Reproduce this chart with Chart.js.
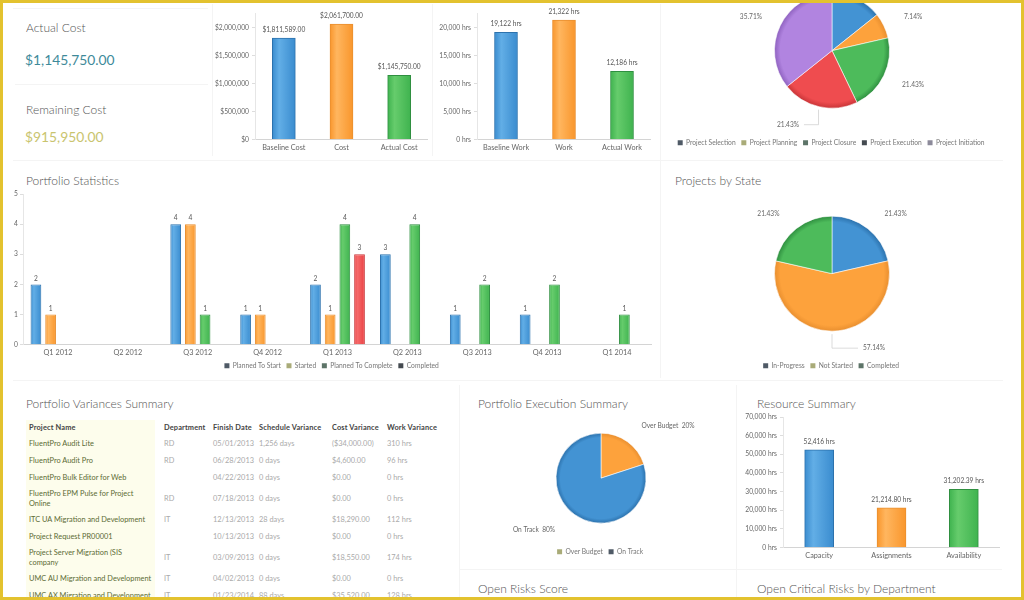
<!DOCTYPE html>
<html>
<head>
<meta charset="utf-8">
<title>Portfolio Dashboard</title>
<script src="https://cdn.jsdelivr.net/npm/chart.js@4"></script>
<style>
    html, body { margin: 0; padding: 0; width: 1024px; height: 600px; overflow: hidden; background: #fff; font-family: Lato, "Open Sans", sans-serif; }
    canvas, .title, .line, .amount, #frame, #yellowCol, #tableWrap { position: absolute; }
    .title { color: #555; font-size: 12px; font-weight: 300; line-height: 16px; white-space: nowrap; }
    .amount { font-size: 13.8px; line-height: 18px; white-space: nowrap; }
    .line { background: #f4f4f4; }
    #frame { left: 0; top: 0; width: 1018px; height: 594px; border: 3px solid #e3c22f; z-index: 5; }
    #yellowCol { left: 26px; top: 420px; width: 129px; height: 180px; background: #fdfdec; }
    #tableWrap { left: 26px; top: 420px; }
    table { border-collapse: collapse; table-layout: fixed; width: 422px; font-size: 7.4px; line-height: 10.6px; color: #aaa; }
    th { text-align: left; color: #444; font-weight: 700; height: 16.4px; padding: 0 0 0 3px; letter-spacing: .15px; white-space: nowrap; }
    td { height: 16.6px; padding: 0 0 0 3px; white-space: pre-line; }
    tr.tall td { height: 26px; }
    td:first-child { color: #5c6b34; }
</style>
</head>
<body>
<div class="line" style="left:13px;top:8px;width:195px;height:1px"></div>
<div class="line" style="left:15px;top:84px;width:193px;height:1px"></div>
<div class="line" style="left:212px;top:4px;width:1px;height:152px"></div>
<div class="line" style="left:432px;top:4px;width:1px;height:152px"></div>
<div class="line" style="left:660px;top:4px;width:1px;height:374px"></div>
<div class="line" style="left:13px;top:160px;width:990px;height:1px"></div>
<div class="line" style="left:13px;top:380px;width:990px;height:1px"></div>
<div class="line" style="left:459px;top:385px;width:1px;height:212px"></div>
<div class="line" style="left:736px;top:385px;width:1px;height:212px"></div>
<div class="line" style="left:460px;top:569px;width:542px;height:1px"></div>

<div class="title" style="left:26px;top:20px">Actual Cost</div>
<div class="amount" style="left:25px;top:51px;color:#3e8a9a">$1,145,750.00</div>
<div class="title" style="left:26px;top:102px">Remaining Cost</div>
<div class="amount" style="left:25px;top:128px;color:#c9c46e">$915,950.00</div>
<div class="title" style="left:26px;top:173px">Portfolio Statistics</div>
<div class="title" style="left:675px;top:173px">Projects by State</div>
<div class="title" style="left:26px;top:396px">Portfolio Variances Summary</div>
<div class="title" style="left:478px;top:396px">Portfolio Execution Summary</div>
<div class="title" style="left:757px;top:396px">Resource Summary</div>
<div class="title" style="left:478px;top:581px">Open Risks Score</div>
<div class="title" style="left:757px;top:581px">Open Critical Risks by Department</div>

<div id="yellowCol"></div>
<div id="tableWrap"></div>

<canvas id="costChart" width="215" height="156" style="left:213px;top:0"></canvas>
<canvas id="workChart" width="218" height="156" style="left:433px;top:0"></canvas>
<canvas id="phaseChart" width="340" height="190" style="left:662px;top:-34px"></canvas>
<canvas id="statsChart" width="639" height="193" style="left:13px;top:186px"></canvas>
<canvas id="stateChart" width="340" height="190" style="left:662px;top:189px"></canvas>
<canvas id="execChart" width="280" height="153" style="left:461px;top:412px"></canvas>
<canvas id="resourceChart" width="259" height="155" style="left:741px;top:409px"></canvas>
<div id="frame"></div>

<script>
// Data
const costLabels = ['Baseline Cost', 'Cost', 'Actual Cost'];
const costValues = [1811589, 2061700, 1145750];
const costTicks = [0, 500000, 1000000, 1500000, 2000000];
const workLabels = ['Baseline Work', 'Work', 'Actual Work'];
const workValues = [19122, 21322, 12186];
const workTicks = [0, 5000, 10000, 15000, 20000];

const phaseLabels = ['Project Selection', 'Project Planning', 'Project Closure', 'Project Execution', 'Project Initiation'];
const phaseValues = [14.29, 7.14, 21.43, 21.43, 35.71];

const quarters = ['Q1 2012', 'Q2 2012', 'Q3 2012', 'Q4 2012', 'Q1 2013', 'Q2 2013', 'Q3 2013', 'Q4 2013', 'Q1 2014'];
const plannedToStart = [2, null, 4, 1, 2, 3, 1, 1, null];
const started = [1, null, 4, 1, 1, null, null, null, null];
const plannedToComplete = [null, null, 1, null, 4, 4, 2, 2, 1];
const completed = [null, null, null, null, 3, null, null, null, null];

const stateLabels = ['In-Progress', 'Not Started', 'Completed'];
const stateValues = [21.43, 57.14, 21.43];

const execLabels = ['Over Budget', 'On Track'];
const execValues = [20, 80];

const resourceLabels = ['Capacity', 'Assignments', 'Availability'];
const resourceValues = [52416, 21214.80, 31202.39];
const resourceTicks = [0, 10000, 20000, 30000, 40000, 50000, 60000, 70000];

const tableHead = ['Project Name', 'Department', 'Finish Date', 'Schedule Variance', 'Cost Variance', 'Work Variance'];
const tableRows = [
    ['FluentPro Audit Lite', 'RD', '05/01/2013', '1,256 days', '($34,000.00)', '310 hrs'],
    ['FluentPro Audit Pro', 'RD', '06/28/2013', '0 days', '$4,600.00', '96 hrs'],
    ['FluentPro Bulk Editor for Web', '', '04/22/2013', '0 days', '$0.00', '0 hrs'],
    ['FluentPro EPM Pulse for Project\nOnline', 'RD', '07/18/2013', '0 days', '$0.00', '0 hrs'],
    ['ITC UA Migration and Development', 'IT', '12/13/2013', '28 days', '$18,290.00', '112 hrs'],
    ['Project Request PR00001', '', '10/13/2013', '0 days', '$0.00', '0 hrs'],
    ['Project Server Migration (SIS\ncompany', 'IT', '03/09/2013', '0 days', '$18,550.00', '174 hrs'],
    ['UMC AU Migration and Development', 'IT', '04/02/2013', '0 days', '$0.00', '0 hrs'],
    ['UMC AX Migration and Development', 'IT', '01/23/2014', '88 days', '$35,520.00', '128 hrs']
];

// Renkler: [light, mid, dark]
const BLUE = '#4393d3', ORANGE = '#fda23c', GREEN = '#4dbb5b', RED = '#ef4c4f', PURPLE = '#b184e0';
const shades = {
    [BLUE]: ['#62aee6', '#3a8ccf', '#2c72ad'],
    [ORANGE]: ['#ffb65f', '#f9962c', '#e98f2f'],
    [GREEN]: ['#66cc6c', '#3fb34f', '#2f8f40'],
    [RED]: ['#f56a6a', '#ea3f42', '#c93538'],
    [PURPLE]: ['#bb92e6', '#aa7cdb', '#8f62c0']
};
const TICK_FONT = { family: 'Lato', size: 7.3 };
const VALUE_FONT = { family: 'Lato', size: 6.7 };
const LABEL_FONT = '6.6px Lato';

function money(v) { return '$' + v.toLocaleString('en-US'); }
function hours(v) { return v.toLocaleString('en-US') + ' hrs'; }

// Bars get a side to side gradient and slices a dark rim
const gradientPlugin = {
    id: 'gradientPlugin',
    beforeDatasetDraw(chart, args) {
        const c = chart.ctx;
        args.meta.data.forEach(el => {
            const base = el.options && el.options.backgroundColor;
            const s = shades[base];
            if (!s) return;
            let g;
            if (args.meta.type === 'bar') {
                if (el.skip) return;
                g = c.createLinearGradient(el.x - el.width / 2, 0, el.x + el.width / 2, 0);
                g.addColorStop(0, s[1]);
                g.addColorStop(0.3, s[0]);
                g.addColorStop(1, s[1]);
            } else {
                g = c.createRadialGradient(el.x, el.y, 0, el.x, el.y, el.outerRadius);
                g.addColorStop(0, base);
                g.addColorStop(0.9, base);
                g.addColorStop(1, s[2]);
            }
            el.options = Object.assign({}, el.options, { backgroundColor: g, borderColor: args.meta.type === 'bar' ? s[2] : el.options.borderColor });
        });
    }
};

// Value text above the bars
const barValuePlugin = {
    id: 'barValuePlugin',
    afterDatasetsDraw(chart, args, opts) {
        const c = chart.ctx;
        c.save();
        c.font = LABEL_FONT;
        c.fillStyle = '#555';
        c.textAlign = 'center';
        chart.data.datasets.forEach((ds, i) => {
            chart.getDatasetMeta(i).data.forEach((el, j) => {
                if (ds.data[j] === null) return;
                c.fillText(opts.format(ds.data[j]), el.x, el.y - 6);
            });
        });
        c.restore();
    }
};

// Percent text around the pies, with a thin leader on the moved ones
const pieLabelPlugin = {
    id: 'pieLabelPlugin',
    afterDatasetsDraw(chart, args, opts) {
        const c = chart.ctx;
        c.save();
        c.font = LABEL_FONT;
        c.textAlign = 'center';
        c.textBaseline = 'middle';
        chart.getDatasetMeta(0).data.forEach((el, i) => {
            const mid = (el.startAngle + el.endAngle) / 2 + Math.PI / 2;
            const move = opts.moved[i];
            const x = el.x + Math.sin(mid) * opts.rx + (move ? move[0] : 0);
            const y = el.y - Math.cos(mid) * opts.ry + (move ? move[1] : 0);
            if (move) {
                const ex = el.x + Math.sin(mid) * (el.outerRadius + 3);
                const ey = el.y - Math.cos(mid) * (el.outerRadius + 3);
                const side = x > ex ? -16 : 16;
                c.strokeStyle = '#ccc';
                c.lineWidth = 0.7;
                c.beginPath();
                c.moveTo(ex, ey);
                c.lineTo(ex, y);
                c.lineTo(x + side, y);
                c.stroke();
            }
            c.fillStyle = '#666';
            c.fillText(opts.format(chart.data.labels[i], chart.data.datasets[0].data[i]), x, y);
        });
        c.restore();
    }
};

function axisScales(yWidth, xHeight, y) {
    return {
        x: {
            afterFit: s => { s.height = xHeight; },
            grid: { display: false, drawTicks: false },
            border: { color: '#d4d4d4' },
            ticks: { font: TICK_FONT, color: '#666', padding: 4, maxRotation: 0, autoSkip: false }
        },
        y: Object.assign({
            min: 0,
            afterFit: s => { s.width = yWidth; },
            grid: { drawOnChartArea: false, tickLength: 3, color: '#ddd' },
            border: { color: '#e6e6e6' }
        }, y)
    };
}

function singleBars(id, labels, values, tickValues, thickness, yWidth, padTop, max, tickFmt, labelFmt) {
    new Chart(document.getElementById(id), {
        type: 'bar',
        data: {
            labels: labels,
            datasets: [{ data: values, backgroundColor: [BLUE, ORANGE, GREEN], borderWidth: 1, barThickness: thickness }]
        },
        options: {
            responsive: false,
            animation: false,
            layout: { autoPadding: false, padding: { top: padTop } },
            scales: axisScales(yWidth, 16.5, {
                max: max,
                afterBuildTicks: s => { s.ticks = tickValues.map(v => ({ value: v })); },
                ticks: { callback: tickFmt, font: VALUE_FONT, color: '#666', padding: 3 }
            }),
            plugins: { legend: { display: false }, tooltip: { enabled: false }, barValuePlugin: { format: labelFmt } }
        },
        plugins: [gradientPlugin, barValuePlugin]
    });
}

function legendOptions(markers) {
    return {
        position: 'bottom',
        labels: {
            boxWidth: 5,
            boxHeight: 5,
            padding: 4,
            font: { family: 'Lato', size: 6.7 },
            color: '#777',
            generateLabels: chart => {
                const names = chart.data.datasets.length > 1 ? chart.data.datasets.map(d => d.label) : chart.data.labels;
                return names.map((n, i) => ({ text: n + ' ', fillStyle: markers[i], strokeStyle: markers[i], lineWidth: 0, fontColor: '#777', index: i, datasetIndex: i }));
            }
        }
    };
}

function pieChart(id, labels, values, colors, radius, markers, labelOpts) {
    new Chart(document.getElementById(id), {
        type: 'pie',
        data: {
            labels: labels,
            datasets: [{ data: values, backgroundColor: colors, borderColor: 'rgba(255,255,255,0.7)', borderWidth: 0.8, radius: radius }]
        },
        options: {
            responsive: false,
            animation: false,
            plugins: { legend: legendOptions(markers), tooltip: { enabled: false }, pieLabelPlugin: labelOpts }
        },
        plugins: [gradientPlugin, pieLabelPlugin]
    });
}

// Top row
singleBars('costChart', costLabels, costValues, costTicks, 23, 42, 13.5, 2250000, money,
    v => '$' + v.toLocaleString('en-US', { minimumFractionDigits: 2 }));
singleBars('workChart', workLabels, workValues, workTicks, 23, 44, 13.5, 22500, hours, hours);

const percentText = (name, v) => v.toFixed(2) + '%';
pieChart('phaseChart', phaseLabels, phaseValues, [BLUE, ORANGE, GREEN, RED, PURPLE], 57.5,
    ['#4f5a66', '#a9ab78', '#5d7468', '#444a50', '#8c8a9a'],
    { rx: 90, ry: 78, moved: { 3: [-24, -2] }, format: percentText });

// Portfolio Statistics
new Chart(document.getElementById('statsChart'), {
    type: 'bar',
    data: {
        labels: quarters,
        datasets: [
            { label: 'Planned To Start', data: plannedToStart, backgroundColor: BLUE },
            { label: 'Started', data: started, backgroundColor: ORANGE },
            { label: 'Planned To Complete', data: plannedToComplete, backgroundColor: GREEN },
            { label: 'Completed', data: completed, backgroundColor: RED }
        ].map(d => Object.assign(d, { borderWidth: 1, categoryPercentage: 0.84, barPercentage: 0.73 }))
    },
    options: {
        responsive: false,
        animation: false,
        layout: { autoPadding: false, padding: { top: 8 } },
        scales: axisScales(10, 13.6, { max: 5, ticks: { stepSize: 1, font: VALUE_FONT, color: '#666', padding: 2 } }),
        plugins: {
            legend: legendOptions(['#4f5a66', '#a9ab78', '#5d7468', '#444a50']),
            tooltip: { enabled: false },
            barValuePlugin: { format: v => String(v) }
        }
    },
    plugins: [gradientPlugin, barValuePlugin]
});

pieChart('stateChart', stateLabels, stateValues, [BLUE, ORANGE, GREEN], 57.5,
    ['#4f5a66', '#a9ab78', '#5d7468'],
    { rx: 102, ry: 76, moved: { 1: [42, -1.5] }, format: percentText });

// Bottom row
pieChart('execChart', execLabels, execValues, [ORANGE, BLUE], 45,
    ['#a9ab78', '#4f5a66'],
    { rx: 114, ry: 64, moved: {}, format: (name, v) => name + '  ' + v + '%' });

singleBars('resourceChart', resourceLabels, resourceValues, resourceTicks, 29, 42, 8, 70000, hours,
    v => Number.isInteger(v) ? hours(v) : v.toLocaleString('en-US', { minimumFractionDigits: 2 }) + ' hrs');

// Variance table
let tableHTML = '<table><colgroup><col style="width:135px"><col style="width:49px"><col style="width:46px"><col style="width:73px"><col style="width:55px"><col style="width:64px"></colgroup><tr>';
tableHead.forEach(h => { tableHTML += '<th>' + h + '</th>'; });
tableHTML += '</tr>';
tableRows.forEach(row => {
    const tall = row[0].includes('\n') ? ' class="tall"' : '';
    tableHTML += '<tr' + tall + '>' + row.map(cell => '<td>' + cell + '</td>').join('') + '</tr>';
});
document.getElementById('tableWrap').innerHTML = tableHTML + '</table>';
</script>
</body>
</html>
